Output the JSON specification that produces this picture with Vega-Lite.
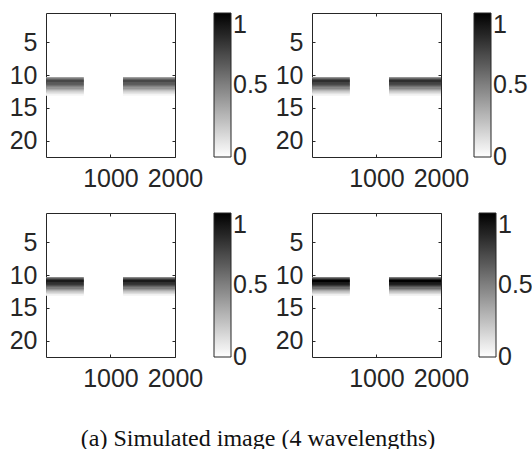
{
  "$schema": "https://vega.github.io/schema/vega-lite/v6.json",
  "padding": {"left": 8, "top": 12, "right": 0, "bottom": 0},
  "background": "white",
  "config": {
    "view": {"stroke": "#262626", "strokeWidth": 1},
    "axis": {"grid": false, "domain": false, "tickColor": "#262626", "tickSize": -3, "labelColor": "#262626", "labelFont": "Liberation Sans", "labelFontSize": 25, "labelOverlap": false, "labelFlush": false, "labelBound": false, "labelPadding": 12, "format": "d"},
    "legend": {"padding": 0, "gradientLength": 144, "gradientThickness": 17, "labelFontSize": 25, "labelFont": "Liberation Sans", "labelColor": "#262626", "labelOffset": 6, "gradientStrokeColor": "#262626", "gradientStrokeWidth": 1, "labelOverlap": false, "direction": "vertical", "orient": "right"}
  },
  "title": {"text": "(a) Simulated image (4 wavelengths)", "orient": "bottom", "anchor": "middle", "font": "Liberation Serif", "fontSize": 24, "fontWeight": "normal", "color": "#111111", "offset": 35, "dx": -13},
  "data": {"values": [
    {"p":1,"x":0.5,"x2":585,"y":10.3,"y2":10.5,"v":0.40},
    {"p":1,"x":0.5,"x2":585,"y":10.5,"y2":10.7,"v":0.61},
    {"p":1,"x":0.5,"x2":585,"y":10.7,"y2":10.9,"v":0.72},
    {"p":1,"x":0.5,"x2":585,"y":10.9,"y2":11.1,"v":0.72},
    {"p":1,"x":0.5,"x2":585,"y":11.1,"y2":11.3,"v":0.68},
    {"p":1,"x":0.5,"x2":585,"y":11.3,"y2":11.5,"v":0.63},
    {"p":1,"x":0.5,"x2":585,"y":11.5,"y2":11.7,"v":0.56},
    {"p":1,"x":0.5,"x2":585,"y":11.7,"y2":11.9,"v":0.49},
    {"p":1,"x":0.5,"x2":585,"y":11.9,"y2":12.1,"v":0.41},
    {"p":1,"x":0.5,"x2":585,"y":12.1,"y2":12.3,"v":0.33},
    {"p":1,"x":0.5,"x2":585,"y":12.3,"y2":12.5,"v":0.25},
    {"p":1,"x":0.5,"x2":585,"y":12.5,"y2":12.7,"v":0.17},
    {"p":1,"x":0.5,"x2":585,"y":12.7,"y2":12.9,"v":0.10},
    {"p":1,"x":0.5,"x2":585,"y":12.9,"y2":13.1,"v":0.04},
    {"p":1,"x":1195,"x2":2000.5,"y":10.3,"y2":10.5,"v":0.40},
    {"p":1,"x":1195,"x2":2000.5,"y":10.5,"y2":10.7,"v":0.61},
    {"p":1,"x":1195,"x2":2000.5,"y":10.7,"y2":10.9,"v":0.72},
    {"p":1,"x":1195,"x2":2000.5,"y":10.9,"y2":11.1,"v":0.72},
    {"p":1,"x":1195,"x2":2000.5,"y":11.1,"y2":11.3,"v":0.68},
    {"p":1,"x":1195,"x2":2000.5,"y":11.3,"y2":11.5,"v":0.63},
    {"p":1,"x":1195,"x2":2000.5,"y":11.5,"y2":11.7,"v":0.56},
    {"p":1,"x":1195,"x2":2000.5,"y":11.7,"y2":11.9,"v":0.49},
    {"p":1,"x":1195,"x2":2000.5,"y":11.9,"y2":12.1,"v":0.41},
    {"p":1,"x":1195,"x2":2000.5,"y":12.1,"y2":12.3,"v":0.33},
    {"p":1,"x":1195,"x2":2000.5,"y":12.3,"y2":12.5,"v":0.25},
    {"p":1,"x":1195,"x2":2000.5,"y":12.5,"y2":12.7,"v":0.17},
    {"p":1,"x":1195,"x2":2000.5,"y":12.7,"y2":12.9,"v":0.10},
    {"p":1,"x":1195,"x2":2000.5,"y":12.9,"y2":13.1,"v":0.04},
    {"p":2,"x":0.5,"x2":585,"y":10.3,"y2":10.5,"v":0.45},
    {"p":2,"x":0.5,"x2":585,"y":10.5,"y2":10.7,"v":0.70},
    {"p":2,"x":0.5,"x2":585,"y":10.7,"y2":10.9,"v":0.82},
    {"p":2,"x":0.5,"x2":585,"y":10.9,"y2":11.1,"v":0.82},
    {"p":2,"x":0.5,"x2":585,"y":11.1,"y2":11.3,"v":0.78},
    {"p":2,"x":0.5,"x2":585,"y":11.3,"y2":11.5,"v":0.71},
    {"p":2,"x":0.5,"x2":585,"y":11.5,"y2":11.7,"v":0.64},
    {"p":2,"x":0.5,"x2":585,"y":11.7,"y2":11.9,"v":0.56},
    {"p":2,"x":0.5,"x2":585,"y":11.9,"y2":12.1,"v":0.47},
    {"p":2,"x":0.5,"x2":585,"y":12.1,"y2":12.3,"v":0.38},
    {"p":2,"x":0.5,"x2":585,"y":12.3,"y2":12.5,"v":0.29},
    {"p":2,"x":0.5,"x2":585,"y":12.5,"y2":12.7,"v":0.20},
    {"p":2,"x":0.5,"x2":585,"y":12.7,"y2":12.9,"v":0.11},
    {"p":2,"x":0.5,"x2":585,"y":12.9,"y2":13.1,"v":0.05},
    {"p":2,"x":1195,"x2":2000.5,"y":10.3,"y2":10.5,"v":0.45},
    {"p":2,"x":1195,"x2":2000.5,"y":10.5,"y2":10.7,"v":0.70},
    {"p":2,"x":1195,"x2":2000.5,"y":10.7,"y2":10.9,"v":0.82},
    {"p":2,"x":1195,"x2":2000.5,"y":10.9,"y2":11.1,"v":0.82},
    {"p":2,"x":1195,"x2":2000.5,"y":11.1,"y2":11.3,"v":0.78},
    {"p":2,"x":1195,"x2":2000.5,"y":11.3,"y2":11.5,"v":0.71},
    {"p":2,"x":1195,"x2":2000.5,"y":11.5,"y2":11.7,"v":0.64},
    {"p":2,"x":1195,"x2":2000.5,"y":11.7,"y2":11.9,"v":0.56},
    {"p":2,"x":1195,"x2":2000.5,"y":11.9,"y2":12.1,"v":0.47},
    {"p":2,"x":1195,"x2":2000.5,"y":12.1,"y2":12.3,"v":0.38},
    {"p":2,"x":1195,"x2":2000.5,"y":12.3,"y2":12.5,"v":0.29},
    {"p":2,"x":1195,"x2":2000.5,"y":12.5,"y2":12.7,"v":0.20},
    {"p":2,"x":1195,"x2":2000.5,"y":12.7,"y2":12.9,"v":0.11},
    {"p":2,"x":1195,"x2":2000.5,"y":12.9,"y2":13.1,"v":0.05},
    {"p":3,"x":0.5,"x2":585,"y":10.3,"y2":10.5,"v":0.50},
    {"p":3,"x":0.5,"x2":585,"y":10.5,"y2":10.7,"v":0.77},
    {"p":3,"x":0.5,"x2":585,"y":10.7,"y2":10.9,"v":0.90},
    {"p":3,"x":0.5,"x2":585,"y":10.9,"y2":11.1,"v":0.90},
    {"p":3,"x":0.5,"x2":585,"y":11.1,"y2":11.3,"v":0.86},
    {"p":3,"x":0.5,"x2":585,"y":11.3,"y2":11.5,"v":0.78},
    {"p":3,"x":0.5,"x2":585,"y":11.5,"y2":11.7,"v":0.70},
    {"p":3,"x":0.5,"x2":585,"y":11.7,"y2":11.9,"v":0.61},
    {"p":3,"x":0.5,"x2":585,"y":11.9,"y2":12.1,"v":0.51},
    {"p":3,"x":0.5,"x2":585,"y":12.1,"y2":12.3,"v":0.41},
    {"p":3,"x":0.5,"x2":585,"y":12.3,"y2":12.5,"v":0.32},
    {"p":3,"x":0.5,"x2":585,"y":12.5,"y2":12.7,"v":0.22},
    {"p":3,"x":0.5,"x2":585,"y":12.7,"y2":12.9,"v":0.13},
    {"p":3,"x":0.5,"x2":585,"y":12.9,"y2":13.1,"v":0.05},
    {"p":3,"x":1195,"x2":2000.5,"y":10.3,"y2":10.5,"v":0.50},
    {"p":3,"x":1195,"x2":2000.5,"y":10.5,"y2":10.7,"v":0.77},
    {"p":3,"x":1195,"x2":2000.5,"y":10.7,"y2":10.9,"v":0.90},
    {"p":3,"x":1195,"x2":2000.5,"y":10.9,"y2":11.1,"v":0.90},
    {"p":3,"x":1195,"x2":2000.5,"y":11.1,"y2":11.3,"v":0.86},
    {"p":3,"x":1195,"x2":2000.5,"y":11.3,"y2":11.5,"v":0.78},
    {"p":3,"x":1195,"x2":2000.5,"y":11.5,"y2":11.7,"v":0.70},
    {"p":3,"x":1195,"x2":2000.5,"y":11.7,"y2":11.9,"v":0.61},
    {"p":3,"x":1195,"x2":2000.5,"y":11.9,"y2":12.1,"v":0.51},
    {"p":3,"x":1195,"x2":2000.5,"y":12.1,"y2":12.3,"v":0.41},
    {"p":3,"x":1195,"x2":2000.5,"y":12.3,"y2":12.5,"v":0.32},
    {"p":3,"x":1195,"x2":2000.5,"y":12.5,"y2":12.7,"v":0.22},
    {"p":3,"x":1195,"x2":2000.5,"y":12.7,"y2":12.9,"v":0.13},
    {"p":3,"x":1195,"x2":2000.5,"y":12.9,"y2":13.1,"v":0.05},
    {"p":4,"x":0.5,"x2":585,"y":10.3,"y2":10.5,"v":0.55},
    {"p":4,"x":0.5,"x2":585,"y":10.5,"y2":10.7,"v":0.85},
    {"p":4,"x":0.5,"x2":585,"y":10.7,"y2":10.9,"v":1.00},
    {"p":4,"x":0.5,"x2":585,"y":10.9,"y2":11.1,"v":1.00},
    {"p":4,"x":0.5,"x2":585,"y":11.1,"y2":11.3,"v":0.95},
    {"p":4,"x":0.5,"x2":585,"y":11.3,"y2":11.5,"v":0.87},
    {"p":4,"x":0.5,"x2":585,"y":11.5,"y2":11.7,"v":0.78},
    {"p":4,"x":0.5,"x2":585,"y":11.7,"y2":11.9,"v":0.68},
    {"p":4,"x":0.5,"x2":585,"y":11.9,"y2":12.1,"v":0.57},
    {"p":4,"x":0.5,"x2":585,"y":12.1,"y2":12.3,"v":0.46},
    {"p":4,"x":0.5,"x2":585,"y":12.3,"y2":12.5,"v":0.35},
    {"p":4,"x":0.5,"x2":585,"y":12.5,"y2":12.7,"v":0.24},
    {"p":4,"x":0.5,"x2":585,"y":12.7,"y2":12.9,"v":0.14},
    {"p":4,"x":0.5,"x2":585,"y":12.9,"y2":13.1,"v":0.06},
    {"p":4,"x":1195,"x2":2000.5,"y":10.3,"y2":10.5,"v":0.55},
    {"p":4,"x":1195,"x2":2000.5,"y":10.5,"y2":10.7,"v":0.85},
    {"p":4,"x":1195,"x2":2000.5,"y":10.7,"y2":10.9,"v":1.00},
    {"p":4,"x":1195,"x2":2000.5,"y":10.9,"y2":11.1,"v":1.00},
    {"p":4,"x":1195,"x2":2000.5,"y":11.1,"y2":11.3,"v":0.95},
    {"p":4,"x":1195,"x2":2000.5,"y":11.3,"y2":11.5,"v":0.87},
    {"p":4,"x":1195,"x2":2000.5,"y":11.5,"y2":11.7,"v":0.78},
    {"p":4,"x":1195,"x2":2000.5,"y":11.7,"y2":11.9,"v":0.68},
    {"p":4,"x":1195,"x2":2000.5,"y":11.9,"y2":12.1,"v":0.57},
    {"p":4,"x":1195,"x2":2000.5,"y":12.1,"y2":12.3,"v":0.46},
    {"p":4,"x":1195,"x2":2000.5,"y":12.3,"y2":12.5,"v":0.35},
    {"p":4,"x":1195,"x2":2000.5,"y":12.5,"y2":12.7,"v":0.24},
    {"p":4,"x":1195,"x2":2000.5,"y":12.7,"y2":12.9,"v":0.14},
    {"p":4,"x":1195,"x2":2000.5,"y":12.9,"y2":13.1,"v":0.06}
  ]},
  "columns": 2,
  "spacing": {"row": 56, "column": 137},
  "bounds": "flush",
  "resolve": {"scale": {"color": "independent"}, "legend": {"color": "independent"}},
  "concat": [
    {
      "width": 129, "height": 144,
      "transform": [{"filter": "datum.p == 1"}],
      "layer": [
        {"mark": {"type": "rect"},
         "encoding": {
           "x": {"field": "x", "type": "quantitative", "scale": {"domain": [0.5, 2000.5], "nice": false, "zero": false}, "axis": {"orient": "bottom", "values": [1000, 2000], "title": null}},
           "x2": {"field": "x2"},
           "y": {"field": "y", "type": "quantitative", "scale": {"domain": [0.5, 22.5], "nice": false, "zero": false, "reverse": true}, "axis": {"orient": "left", "values": [5, 10, 15, 20], "title": null}},
           "y2": {"field": "y2"},
           "color": {"field": "v", "type": "quantitative", "scale": {"domain": [0, 1], "range": ["#ffffff", "#000000"], "interpolate": "rgb"}, "legend": {"title": null, "offset": 38, "values": [0, 0.5, 1], "format": "~g", "encode": {"labels": {"update": {"baseline": {"signal": "datum.value >= 1 ? 'top' : 'middle'"}}}}}}
         }},
        {"mark": {"type": "rect"},
         "encoding": {
           "x": {"field": "x", "type": "quantitative", "axis": {"orient": "top", "values": [1000, 2000], "labels": false, "title": null}},
           "x2": {"field": "x2"},
           "y": {"field": "y", "type": "quantitative", "axis": {"orient": "right", "values": [5, 10, 15, 20], "labels": false, "title": null}},
           "y2": {"field": "y2"},
           "color": {"field": "v", "type": "quantitative"}
         }}
      ],
      "resolve": {"axis": {"x": "independent", "y": "independent"}}
    },
    {
      "width": 129, "height": 144,
      "transform": [{"filter": "datum.p == 2"}],
      "layer": [
        {"mark": {"type": "rect"},
         "encoding": {
           "x": {"field": "x", "type": "quantitative", "scale": {"domain": [0.5, 2000.5], "nice": false, "zero": false}, "axis": {"orient": "bottom", "values": [1000, 2000], "title": null}},
           "x2": {"field": "x2"},
           "y": {"field": "y", "type": "quantitative", "scale": {"domain": [0.5, 22.5], "nice": false, "zero": false, "reverse": true}, "axis": {"orient": "left", "values": [5, 10, 15, 20], "title": null}},
           "y2": {"field": "y2"},
           "color": {"field": "v", "type": "quantitative", "scale": {"domain": [0, 1], "range": ["#ffffff", "#000000"], "interpolate": "rgb"}, "legend": {"title": null, "offset": 32, "values": [0, 0.5, 1], "format": "~g", "encode": {"labels": {"update": {"baseline": {"signal": "datum.value >= 1 ? 'top' : 'middle'"}}}}}}
         }},
        {"mark": {"type": "rect"},
         "encoding": {
           "x": {"field": "x", "type": "quantitative", "axis": {"orient": "top", "values": [1000, 2000], "labels": false, "title": null}},
           "x2": {"field": "x2"},
           "y": {"field": "y", "type": "quantitative", "axis": {"orient": "right", "values": [5, 10, 15, 20], "labels": false, "title": null}},
           "y2": {"field": "y2"},
           "color": {"field": "v", "type": "quantitative"}
         }}
      ],
      "resolve": {"axis": {"x": "independent", "y": "independent"}}
    },
    {
      "width": 129, "height": 144,
      "transform": [{"filter": "datum.p == 3"}],
      "layer": [
        {"mark": {"type": "rect"},
         "encoding": {
           "x": {"field": "x", "type": "quantitative", "scale": {"domain": [0.5, 2000.5], "nice": false, "zero": false}, "axis": {"orient": "bottom", "values": [1000, 2000], "title": null}},
           "x2": {"field": "x2"},
           "y": {"field": "y", "type": "quantitative", "scale": {"domain": [0.5, 22.5], "nice": false, "zero": false, "reverse": true}, "axis": {"orient": "left", "values": [5, 10, 15, 20], "title": null}},
           "y2": {"field": "y2"},
           "color": {"field": "v", "type": "quantitative", "scale": {"domain": [0, 1], "range": ["#ffffff", "#000000"], "interpolate": "rgb"}, "legend": {"title": null, "offset": 38, "values": [0, 0.5, 1], "format": "~g", "encode": {"labels": {"update": {"baseline": {"signal": "datum.value >= 1 ? 'top' : 'middle'"}}}}}}
         }},
        {"mark": {"type": "rect"},
         "encoding": {
           "x": {"field": "x", "type": "quantitative", "axis": {"orient": "top", "values": [1000, 2000], "labels": false, "title": null}},
           "x2": {"field": "x2"},
           "y": {"field": "y", "type": "quantitative", "axis": {"orient": "right", "values": [5, 10, 15, 20], "labels": false, "title": null}},
           "y2": {"field": "y2"},
           "color": {"field": "v", "type": "quantitative"}
         }}
      ],
      "resolve": {"axis": {"x": "independent", "y": "independent"}}
    },
    {
      "width": 129, "height": 144,
      "transform": [{"filter": "datum.p == 4"}],
      "layer": [
        {"mark": {"type": "rect"},
         "encoding": {
           "x": {"field": "x", "type": "quantitative", "scale": {"domain": [0.5, 2000.5], "nice": false, "zero": false}, "axis": {"orient": "bottom", "values": [1000, 2000], "title": null}},
           "x2": {"field": "x2"},
           "y": {"field": "y", "type": "quantitative", "scale": {"domain": [0.5, 22.5], "nice": false, "zero": false, "reverse": true}, "axis": {"orient": "left", "values": [5, 10, 15, 20], "title": null}},
           "y2": {"field": "y2"},
           "color": {"field": "v", "type": "quantitative", "scale": {"domain": [0, 1], "range": ["#ffffff", "#000000"], "interpolate": "rgb"}, "legend": {"title": null, "offset": 37, "values": [0, 0.5, 1], "format": "~g", "encode": {"labels": {"update": {"baseline": {"signal": "datum.value >= 1 ? 'top' : 'middle'"}}}}}}
         }},
        {"mark": {"type": "rect"},
         "encoding": {
           "x": {"field": "x", "type": "quantitative", "axis": {"orient": "top", "values": [1000, 2000], "labels": false, "title": null}},
           "x2": {"field": "x2"},
           "y": {"field": "y", "type": "quantitative", "axis": {"orient": "right", "values": [5, 10, 15, 20], "labels": false, "title": null}},
           "y2": {"field": "y2"},
           "color": {"field": "v", "type": "quantitative"}
         }}
      ],
      "resolve": {"axis": {"x": "independent", "y": "independent"}}
    }
  ]
}
